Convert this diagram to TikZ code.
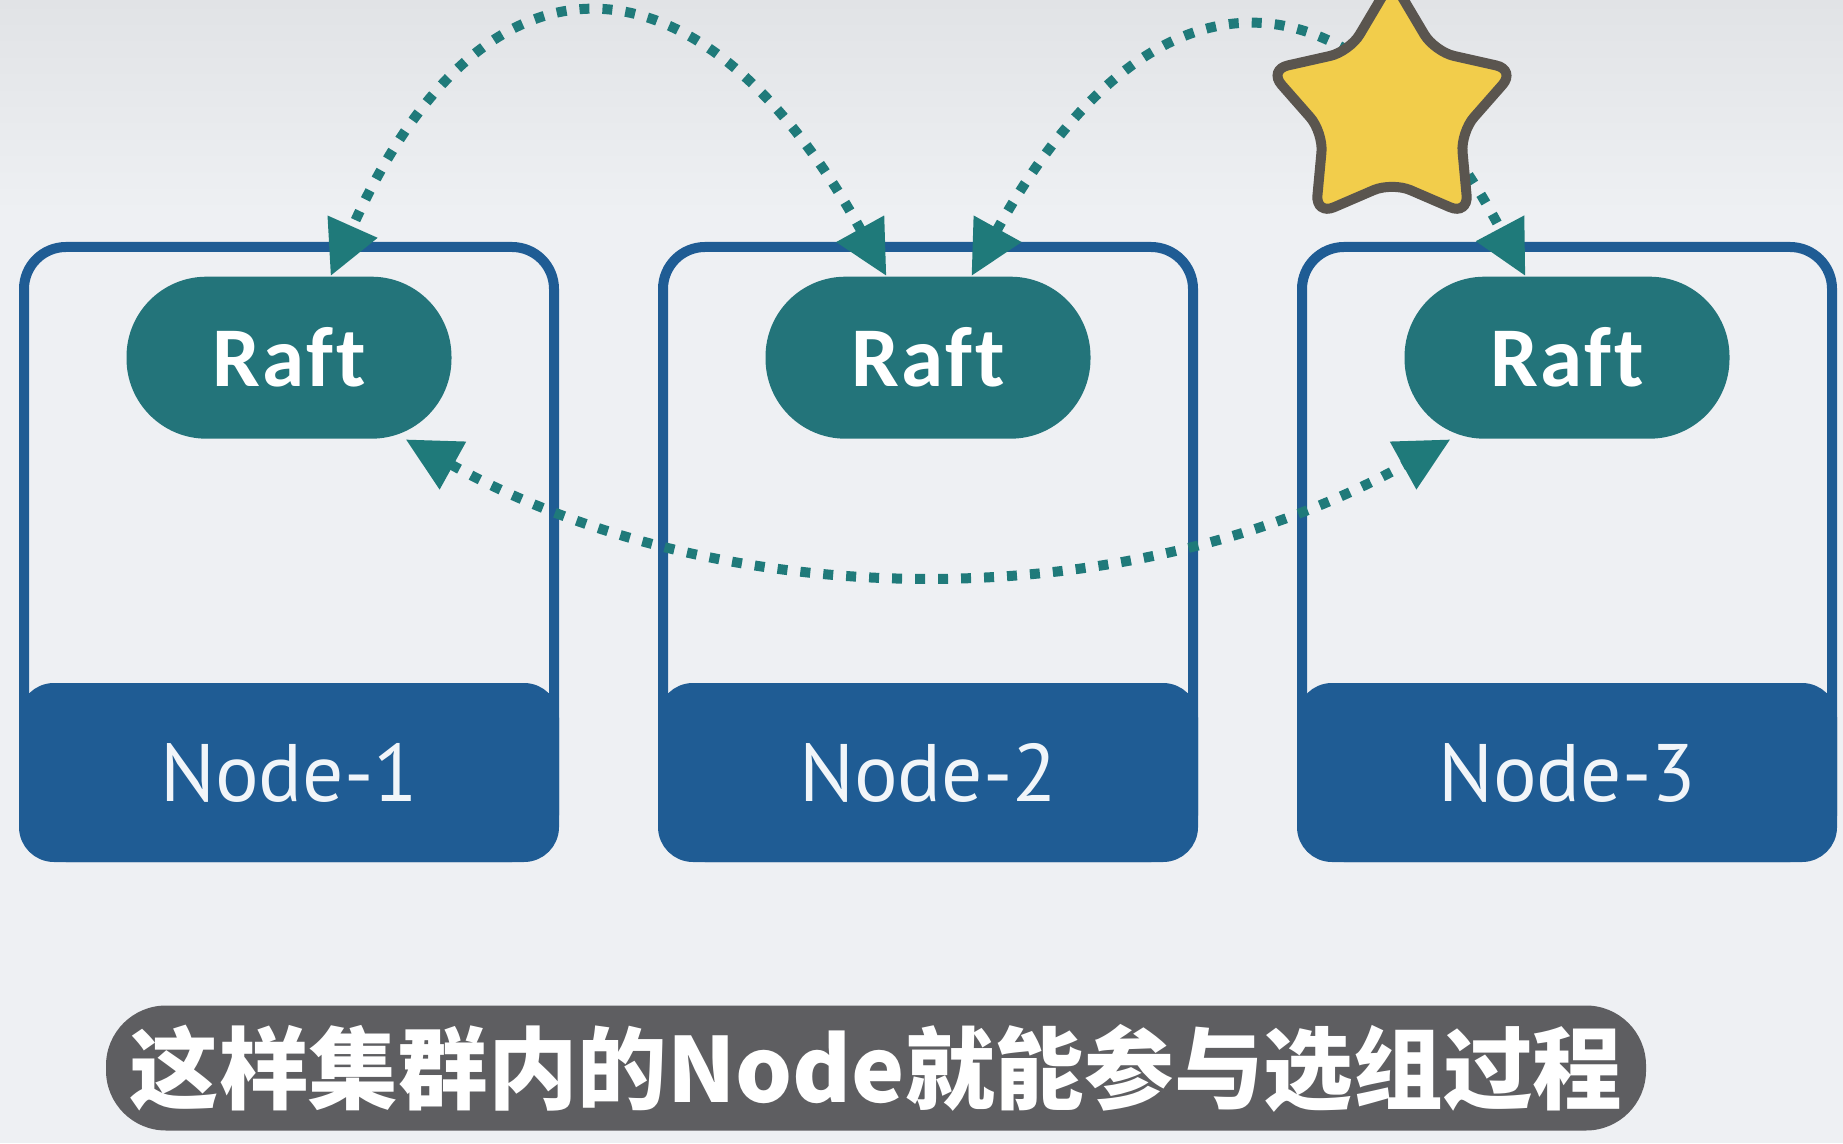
\documentclass[tikz,border=0pt]{standalone}
\usepackage{fontspec}
\usepackage{tikz}
\usetikzlibrary{calc,arrows.meta,positioning,shapes.geometric}
\newfontfamily\raftfont{Carlito}[Ligatures=NoCommon, LetterSpace=3]
\newfontfamily\labelfont{PT Sans}
\newfontfamily\cjk{Noto Sans CJK SC Black}
\definecolor{bg-gray}{HTML}{EEF0F3}
\definecolor{bg-top}{HTML}{E1E3E6}
\definecolor{node-blue}{HTML}{1F5C94}
\definecolor{raft-teal}{HTML}{23747A}
\definecolor{vote-teal}{HTML}{1F7A7A}
\definecolor{star-gold}{HTML}{F2CD4B}
\definecolor{star-edge}{HTML}{5A554F}
\definecolor{sub-gray}{HTML}{5E5E61}

\begin{document}
\begin{tikzpicture}[node distance=6.39cm, >={Triangle[length=0.54cm, width=0.52cm]},
    nodebox/.style={draw=node-blue, line width=1mm, rounded corners=4.2mm, minimum width=5.3cm, minimum height=6.1cm},
    basebar/.style={draw=node-blue, fill=node-blue, line width=1mm, rounded corners=3mm, minimum width=5.3cm, minimum height=1.69cm, text=white!94!node-blue, font=\labelfont\fontsize{23.2}{25}\selectfont},
    raftpill/.style={fill=raft-teal, rounded corners=8mm, minimum width=3.25cm, minimum height=1.62cm, text=white, font=\raftfont\bfseries\fontsize{24.2}{27}\selectfont},
    vote/.style={<->, vote-teal, line width=1mm, dash pattern=on 1mm off 1.3mm}]
    \useasboundingbox (0,0) rectangle (18.43,11.43);
    \clip (0,0) rectangle (18.43,11.43);
    \fill[bg-gray] (0,0) rectangle (18.43,11.43);
    \shade[top color=bg-top, bottom color=bg-gray] (0,9.3) rectangle (18.43,11.43);

    % cluster nodes
    \node[nodebox] (box1) at (2.89,5.91) {};
    \node[nodebox, right of=box1] (box2) {};
    \node[nodebox, right of=box2] (box3) {};
    \node[basebar, above=0cm of box1.south] (base1) {Node-1};
    \node[basebar, above=0cm of box2.south] (base2) {Node-2};
    \node[basebar, above=0cm of box3.south] (base3) {Node-3};
    \node[raftpill, below=0.34cm of box1.north] (raft1) {Raft};
    \node[raftpill, below=0.34cm of box2.north] (raft2) {Raft};
    \node[raftpill, below=0.34cm of box3.north] (raft3) {Raft};

    % votes between the Raft modules
    \draw[vote] (raft2.117) to[out=119, in=66, looseness=1.76] (raft1.63);
    \draw[vote] (raft2.62) to[out=61, in=118, looseness=1.7] (raft3.117);
    \draw[vote] (raft1.-35) to[out=-29, in=209, looseness=0.9] (raft3.215);

    \node[star, star points=5, star point ratio=1.8, minimum size=2.6cm, inner sep=0pt,
          fill=star-gold, draw=star-edge, line width=1mm, rounded corners=2mm] (leader) at (13.92,10.33) {};

    \node[fill=sub-gray, rounded corners=6mm, minimum width=15.4cm, minimum height=1.25cm, text=white,
          font=\cjk\fontsize{25.5}{28}\selectfont] (caption) at (8.76,0.75) {这样集群内的Node就能参与选组过程};
\end{tikzpicture}
\end{document}
